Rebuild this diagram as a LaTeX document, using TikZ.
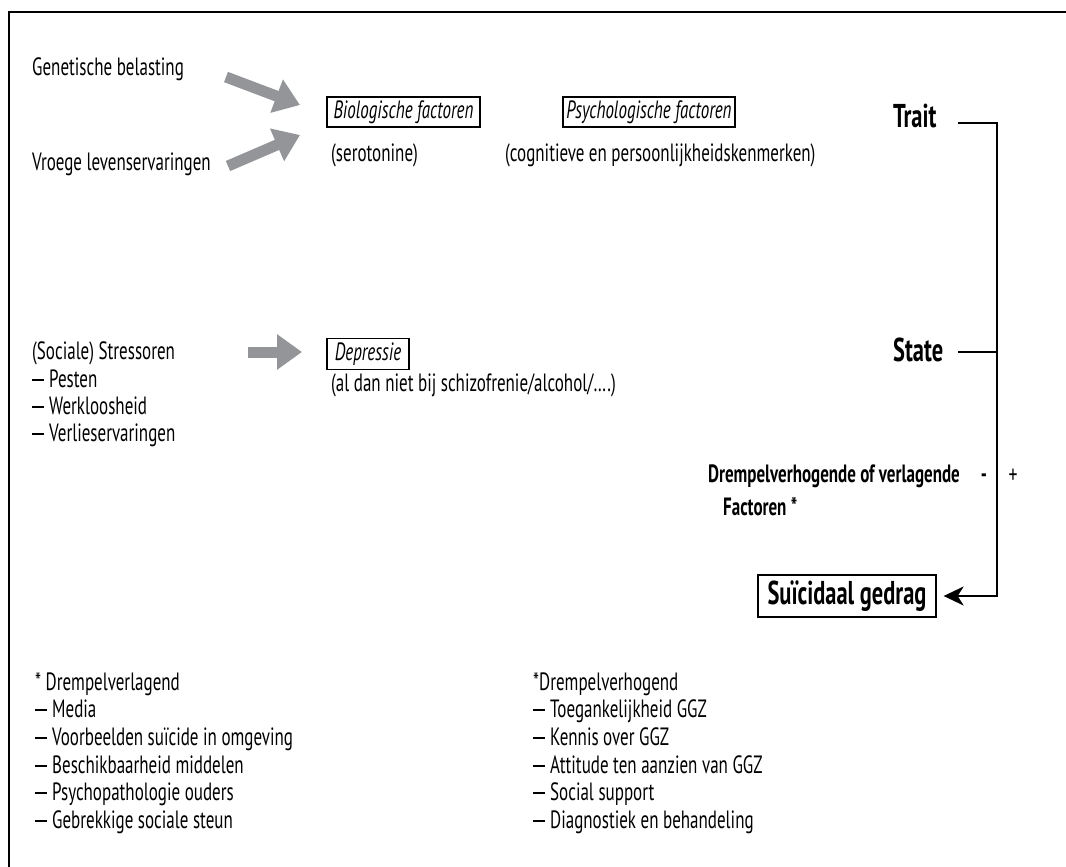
\documentclass[tikz,border=0pt]{standalone}
\usepackage{fontspec}
\setmainfont{PT Sans}[FakeStretch=0.68]
\usetikzlibrary{arrows.meta}
\definecolor{arrowgray}{RGB}{147,149,152}
\newcommand{\ldash}{\rule[6.5pt]{12pt}{2pt}\hspace{5pt}}
\begin{document}
\begin{tikzpicture}[x=1pt,y=-1pt,
  txt/.style={font=\fontsize{25}{29}\selectfont, inner sep=0pt, anchor=base west},
  itbox/.style={draw, line width=1.2pt, font=\fontsize{25}{29}\selectfont\itshape, inner sep=0pt, minimum height=30pt},
  bigbold/.style={font=\fontsize{33}{37}\selectfont\bfseries, inner sep=0pt},
  midbold/.style={font=\fontsize{25}{29}\selectfont\bfseries, inner sep=0pt},
  fatarrow/.style={draw=arrowgray, line width=11pt, -{Triangle[length=25pt,width=34pt]}},
  bracket/.style={draw, line width=2pt},
  frame/.style={draw, line width=1.5pt}
]
\useasboundingbox (0,0) rectangle (1066,867);
% frame
\coordinate (fbl) at (9,867);
\coordinate (ftl) at (9,12);
\coordinate (ftr) at (1066,12);
\draw[frame] (fbl) -- (ftl) -- (ftr);

% left texts
\node[txt] (gen) at (32,76) {Genetische belasting};
\node[txt] (vro) at (32,170) {Vroege levenservaringen};

% boxes
\node[itbox, minimum width=153pt] (bio) at (403.5,112) {Biologische factoren};
\node[itbox, minimum width=172pt] (psy) at (649,112) {Psychologische factoren};
\node[txt] (sero) at (331,161) {(serotonine)};
\node[txt] (cogn) at (505,161) {(cognitieve en persoonlijkheidskenmerken)};

% fat arrows
\coordinate (a1s) at (226,77);
\coordinate (a1e) at (300,105);
\coordinate (a2s) at (228,166);
\coordinate (a2e) at (300,135);
\draw[fatarrow] (a1s) -- (a1e);
\draw[fatarrow] (a2s) -- (a2e);

% stressoren
\node[txt] (soc) at (32,359) {(Sociale) Stressoren};
\node[txt] (pes) at (32,387) {\ldash Pesten};
\node[txt] (wer) at (32,414) {\ldash Werkloosheid};
\node[txt] (ver) at (32,441) {\ldash Verlieservaringen};
\coordinate (a3s) at (248,352);
\coordinate (a3e) at (302,352);
\draw[fatarrow] (a3s) -- (a3e);
\node[itbox, minimum width=82pt, minimum height=31pt] (dep) at (368,354) {Depressie};
\node[txt] (aldan) at (331,391) {(al dan niet bij schizofrenie/alcohol/….)};

% right side
\node[bigbold, anchor=base west] (trait) at (893,127) {Trait};
\node[bigbold, anchor=base west] (state) at (893,361) {State};
\node[midbold, anchor=base east] (drem) at (960,482) {Drempelverhogende of verlagende};
\node[midbold, anchor=base west] (fact) at (723,515) {Factoren *};
\node[midbold, anchor=base] (minus) at (984,482) {-};
\node[font=\fontsize{26}{30}\selectfont, inner sep=0pt] (plus) at (1013,476) {+};
\node[draw, line width=1.3pt, bigbold, minimum width=178pt, minimum height=42pt] (sui) at (847,596) {Suïcidaal gedrag};

\coordinate (t0) at (958,123);
\coordinate (t1) at (997,123);
\coordinate (s0) at (958,352);
\coordinate (s1) at (997,352);
\coordinate (b1) at (997,596);
\draw[bracket, -{Stealth[length=20pt,width=19pt,inset=6pt]}] (t0) -- (t1) -- (b1) -- ([xshift=7pt]sui.east);
\draw[bracket] (s0) -- (s1);

% bottom lists
\foreach \t [count=\i] in {* Drempelverlagend, \ldash Media, \ldash Voorbeelden suïcide in omgeving, \ldash Beschikbaarheid middelen, \ldash Psychopathologie ouders, \ldash Gebrekkige sociale steun}
  \node[txt] (l\i) at (35,{690+27.7*(\i-1)}) {\t};
\foreach \t [count=\i] in {*Drempelverhogend, \ldash Toegankelijkheid GGZ, \ldash Kennis over GGZ, \ldash Attitude ten aanzien van GGZ, \ldash Social support, \ldash Diagnostiek en behandeling}
  \node[txt] (r\i) at (533,{690+27.7*(\i-1)}) {\t};
\end{tikzpicture}
\end{document}
